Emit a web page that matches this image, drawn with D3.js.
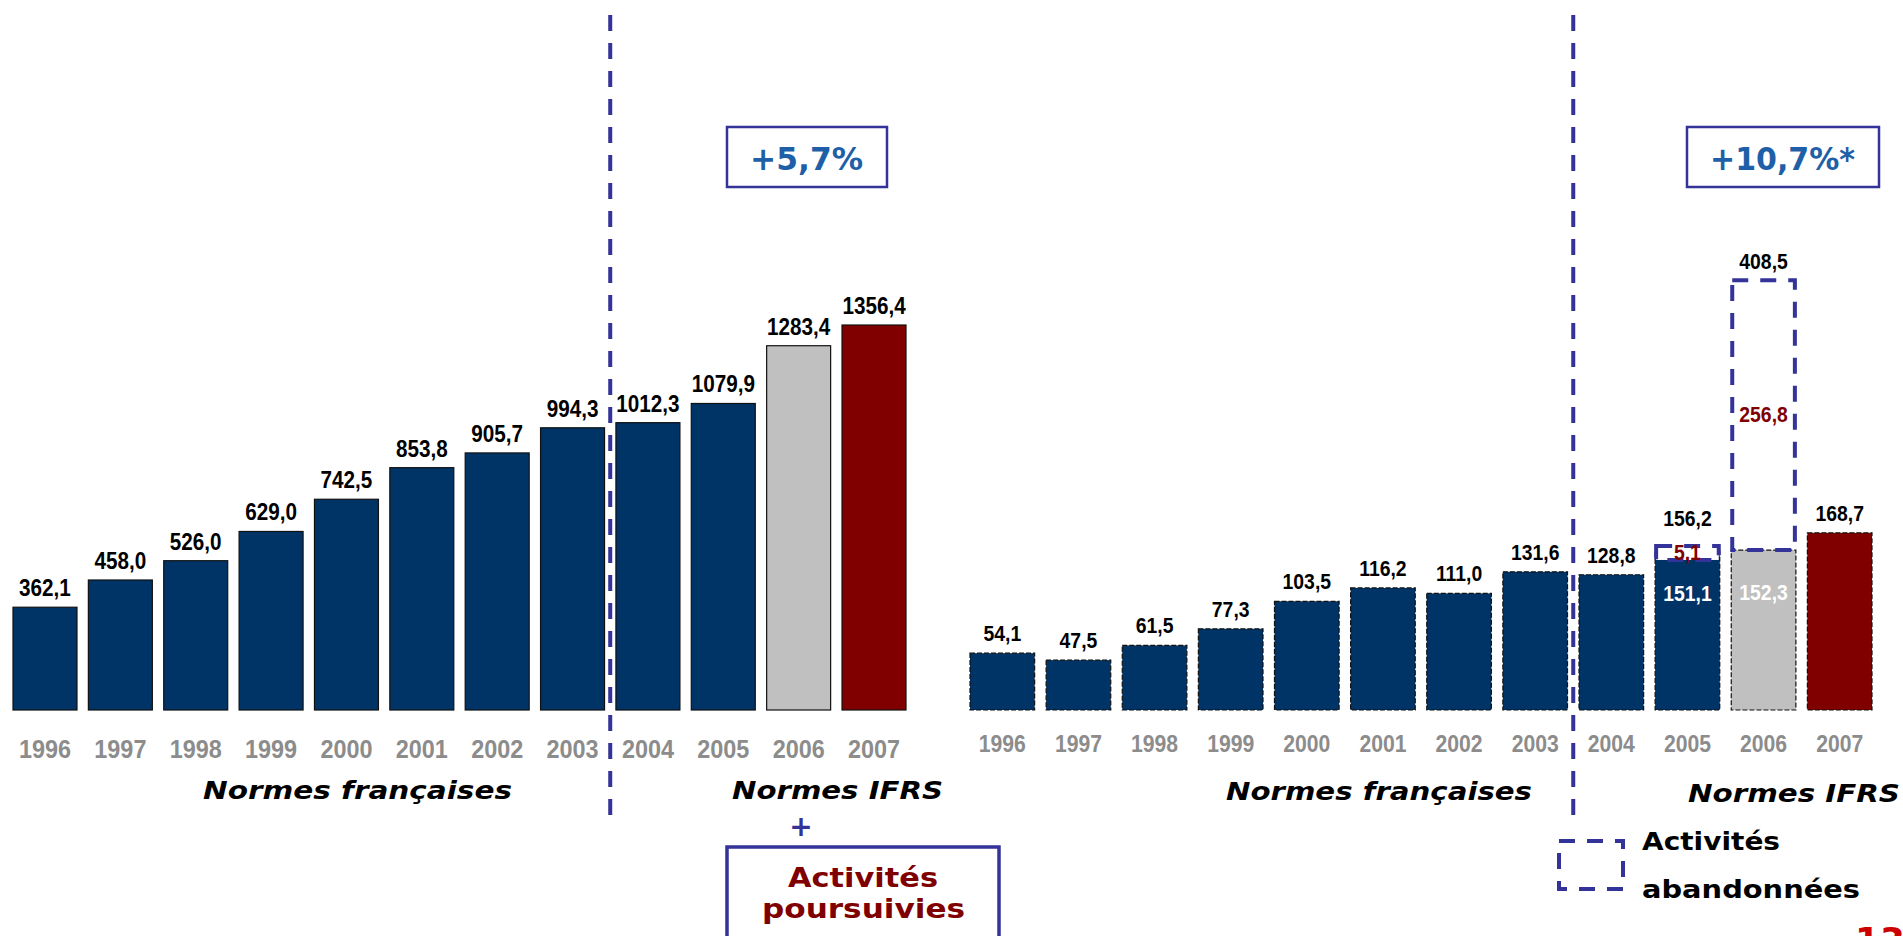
<!DOCTYPE html>
<html>
<head>
<meta charset="utf-8">
<script src="https://cdn.jsdelivr.net/npm/d3@7"></script>
<style>
  html, body { margin: 0; padding: 0; background: #fff; overflow: hidden; }
  svg { display: block; }
</style>
</head>
<body>
<svg id="chart" width="1903" height="936"></svg>
<script>
// ---------- DATA ----------
const years = ["1996","1997","1998","1999","2000","2001","2002","2003","2004","2005","2006","2007"];
const barKind = ["fr","fr","fr","fr","fr","fr","fr","fr","ifrs","ifrs","prev","cur"];

// Left panel
const leftValues = [362.1, 458.0, 526.0, 629.0, 742.5, 853.8, 905.7, 994.3, 1012.3, 1079.9, 1283.4, 1356.4];

// Right panel (activités poursuivies + abandonnées)
const rightContinued = [54.1, 47.5, 61.5, 77.3, 103.5, 116.2, 111.0, 131.6, 128.8, 151.1, 152.3, 168.7];
const rightAbandoned = [0, 0, 0, 0, 0, 0, 0, 0, 0, 5.1, 256.8, 0];
const rightTotals    = [54.1, 47.5, 61.5, 77.3, 103.5, 116.2, 111.0, 131.6, 128.8, 156.2, 408.5, 168.7];

const growthLeft = "+5,7%";
const growthRight = "+10,7%*";
const sectionLabels = ["Normes françaises", "Normes IFRS"];
const legendLines = ["Activités", "abandonnées"];
const continuedLines = ["Activités", "poursuivies"];
const pageNumber = "13";

// ---------- STYLE ----------
const COLORS = { fr: "#003366", ifrs: "#003366", prev: "#c0c0c0", cur: "#800000" };
const LINE_BLUE = "#333399";
const GROWTH_BLUE = "#1f5fa8";
const DARK_RED = "#7f0000";
const YEAR_GRAY = "#8c8c8c";
const NUM_FONT = "'Liberation Sans', Arial, sans-serif";
const WIDE = "'DejaVu Sans', Verdana, sans-serif";
const fmt = v => d3.format(".1f")(v).replace(".", ",");

// condense a text selection horizontally
function condense(sel, factor) {
  sel.each(function () {
    const w = this.getComputedTextLength();
    d3.select(this).attr("textLength", w * factor).attr("lengthAdjust", "spacingAndGlyphs");
  });
}

const svg = d3.select("#chart");
const baseline = 710;

// ---------- SCALES ----------
const xL = d3.scaleBand().domain(years).range([13, 906]).paddingInner(0.151).paddingOuter(0);
const yL = d3.scaleLinear().domain([0, 1356.4]).range([baseline, 325]);

const xR = d3.scaleBand().domain(years).range([970, 1872]).paddingInner(0.151).paddingOuter(0);
const yR = d3.scaleLinear().domain([0, 408.5]).range([baseline, 281]);

// ---------- LEFT PANEL ----------
const gL = svg.append("g");
gL.selectAll("rect.bar").data(years).join("rect")
  .attr("class", "bar")
  .attr("x", d => xL(d))
  .attr("width", xL.bandwidth())
  .attr("y", (d, i) => yL(leftValues[i]))
  .attr("height", (d, i) => yL(0) - yL(leftValues[i]))
  .attr("fill", (d, i) => COLORS[barKind[i]])
  .attr("stroke", "#111").attr("stroke-width", 1.2);

gL.selectAll("text.val").data(years).join("text")
  .attr("class", "val")
  .attr("x", d => xL(d) + xL.bandwidth() / 2)
  .attr("y", (d, i) => yL(leftValues[i]) - 11)
  .attr("text-anchor", "middle")
  .attr("font-family", NUM_FONT)
  .attr("font-weight", "bold").attr("font-size", 23.5).attr("fill", "#000")
  .text((d, i) => fmt(leftValues[i]))
  .call(condense, 0.88);

const axL = d3.axisBottom(xL).tickSize(0).tickPadding(0);
gL.append("g").attr("transform", `translate(0,${baseline})`).call(axL)
  .call(g => g.select(".domain").remove())
  .selectAll("text")
  .attr("dy", null).attr("y", 48)
  .attr("font-family", NUM_FONT)
  .attr("font-weight", "bold").attr("font-size", 26).attr("fill", YEAR_GRAY)
  .call(condense, 0.9);

// ---------- RIGHT PANEL ----------
const gR = svg.append("g");
gR.selectAll("rect.bar").data(years).join("rect")
  .attr("class", "bar")
  .attr("x", d => xR(d))
  .attr("width", xR.bandwidth())
  .attr("y", (d, i) => yR(rightContinued[i]))
  .attr("height", (d, i) => yR(0) - yR(rightContinued[i]))
  .attr("fill", (d, i) => COLORS[barKind[i]])
  .attr("stroke", "#111").attr("stroke-width", 1.2).attr("stroke-dasharray", "5,2");

// abandoned activities: dashed boxes stacked on top
const abIdx = years.map((d, i) => i).filter(i => rightAbandoned[i] > 0);
const abTop = i => yR(rightContinued[i] + rightAbandoned[i]);
const abH = i => Math.max(yR(rightContinued[i]) - abTop(i), 14);
gR.selectAll("rect.ab").data(abIdx).join("rect")
  .attr("class", "ab")
  .attr("x", i => xR(years[i]) + 1)
  .attr("width", xR.bandwidth() - 2)
  .attr("y", i => abTop(i))
  .attr("height", i => abH(i))
  .attr("fill", i => barKind[i] === "prev" ? "none" : "#fff")
  .attr("stroke", LINE_BLUE).attr("stroke-width", 4).attr("stroke-dasharray", "16,12");

gR.selectAll("text.abv").data(abIdx).join("text")
  .attr("class", "abv")
  .attr("x", i => xR(years[i]) + xR.bandwidth() / 2)
  .attr("y", i => abTop(i) + abH(i) / 2 + 7)
  .attr("text-anchor", "middle")
  .attr("font-family", NUM_FONT)
  .attr("font-weight", "bold").attr("font-size", 22).attr("fill", DARK_RED)
  .text(i => fmt(rightAbandoned[i]))
  .call(condense, 0.88);

gR.selectAll("text.inner").data(abIdx).join("text")
  .attr("class", "inner")
  .attr("x", i => xR(years[i]) + xR.bandwidth() / 2)
  .attr("y", i => yR(rightContinued[i]) + 50)
  .attr("text-anchor", "middle")
  .attr("font-family", NUM_FONT)
  .attr("font-weight", "bold").attr("font-size", 22).attr("fill", "#fff")
  .text(i => fmt(rightContinued[i]))
  .call(condense, 0.88);

gR.selectAll("text.val").data(years).join("text")
  .attr("class", "val")
  .attr("x", d => xR(d) + xR.bandwidth() / 2)
  .attr("y", (d, i) => yR(rightTotals[i]) - (rightAbandoned[i] > 0 && rightAbandoned[i] < 20 ? 20 : 12))
  .attr("text-anchor", "middle")
  .attr("font-family", NUM_FONT)
  .attr("font-weight", "bold").attr("font-size", 22).attr("fill", "#000")
  .text((d, i) => fmt(rightTotals[i]))
  .call(condense, 0.88);

const axR = d3.axisBottom(xR).tickSize(0).tickPadding(0);
gR.append("g").attr("transform", `translate(0,${baseline})`).call(axR)
  .call(g => g.select(".domain").remove())
  .selectAll("text")
  .attr("dy", null).attr("y", 42)
  .attr("font-family", NUM_FONT)
  .attr("font-weight", "bold").attr("font-size", 23.5).attr("fill", YEAR_GRAY)
  .call(condense, 0.9);

// ---------- DIVIDERS ----------
function divider(x) {
  svg.append("line").attr("x1", x).attr("x2", x).attr("y1", 15).attr("y2", 816)
    .attr("stroke", LINE_BLUE).attr("stroke-width", 4).attr("stroke-dasharray", "16,12");
}
divider((xL("2003") + xL.bandwidth() + xL("2004")) / 2);
divider((xR("2003") + xR.bandwidth() + xR("2004")) / 2);

// ---------- TEXT ANNOTATIONS ----------
function wideText(txt, x, y, len, size, color, italic) {
  return svg.append("text").attr("x", x).attr("y", y)
    .attr("font-family", WIDE).attr("font-weight", "bold")
    .attr("font-style", italic ? "italic" : "normal")
    .attr("font-size", size).attr("fill", color)
    .attr("textLength", len).attr("lengthAdjust", "spacingAndGlyphs")
    .text(txt);
}
wideText(sectionLabels[0], 203, 799, 309, 24, "#000", true);
wideText(sectionLabels[1], 732, 799, 211, 24, "#000", true);
wideText(sectionLabels[0], 1226, 800, 306, 24, "#000", true);
wideText(sectionLabels[1], 1688, 802, 212, 24, "#000", true);

// growth boxes
svg.append("rect").attr("x", 727).attr("y", 127).attr("width", 160).attr("height", 60)
  .attr("fill", "none").attr("stroke", LINE_BLUE).attr("stroke-width", 2.5);
wideText(growthLeft, 750, 170, 113, 32, GROWTH_BLUE, false);
svg.append("rect").attr("x", 1687).attr("y", 127).attr("width", 192).attr("height", 60)
  .attr("fill", "none").attr("stroke", LINE_BLUE).attr("stroke-width", 2.5);
wideText(growthRight, 1710, 170, 145, 32, GROWTH_BLUE, false);

// "+" and "Activités poursuivies" box
svg.append("text").attr("x", 801).attr("y", 836).attr("text-anchor", "middle")
  .attr("font-family", WIDE).attr("font-weight", "bold").attr("font-size", 28)
  .attr("fill", LINE_BLUE).text("+");
svg.append("rect").attr("x", 727).attr("y", 847).attr("width", 272).attr("height", 120)
  .attr("fill", "none").attr("stroke", LINE_BLUE).attr("stroke-width", 3.5);
wideText(continuedLines[0], 788, 887, 150, 27, DARK_RED, false);
wideText(continuedLines[1], 762, 918, 203, 27, DARK_RED, false);

// legend
svg.append("rect").attr("x", 1559).attr("y", 841).attr("width", 64).attr("height", 48)
  .attr("fill", "none").attr("stroke", LINE_BLUE).attr("stroke-width", 4).attr("stroke-dasharray", "16,12");
wideText(legendLines[0], 1642, 850, 138, 25, "#000", false);
wideText(legendLines[1], 1642, 898, 218, 25, "#000", false);

// page number (cut off at the bottom, as in the original slide)
svg.append("text").attr("x", 1855).attr("y", 953)
  .attr("font-family", WIDE).attr("font-weight", "bold").attr("font-size", 36)
  .attr("fill", "#cc0000").text(pageNumber);
</script>
</body>
</html>
